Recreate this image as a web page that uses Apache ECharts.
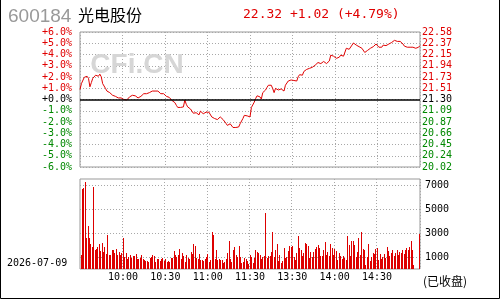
<!DOCTYPE html>
<html><head><meta charset="utf-8">
<script src="https://cdn.jsdelivr.net/npm/echarts@6/dist/echarts.min.js"></script>
<style>html,body{margin:0;padding:0;background:#fff}#c{width:500px;height:300px}</style>
</head><body><div id="c"></div>
<script>
const stockCode = '600184';
const stockName = '光电股份';
const prevClose = 21.30;
const lastPrice = 22.32;
const tradeDate = '2026-07-09';
const statusText = '(已收盘)';
const watermark = 'CFi.CN';
const timeLabels = ['09:30','10:00','10:30','11:00','11:30','13:30','14:00','14:30','15:00'];
const volTicks = [1000, 3000, 5000, 7000];

// price per minute, index 0 = 09:30 ... 120 = 11:30/13:00 ... 240 = 15:00
const prices = [
 21.49,21.60,21.62,21.72,21.73,21.74,21.70,21.54,21.62,21.70,
 21.70,21.76,21.79,21.74,21.78,21.73,21.60,21.57,21.51,21.46,
 21.45,21.43,21.40,21.38,21.36,21.36,21.35,21.33,21.35,21.33,
 21.30,21.30,21.29,21.29,21.32,21.35,21.35,21.38,21.37,21.37,
 21.38,21.33,21.32,21.36,21.39,21.41,21.40,21.41,21.40,21.43,
 21.45,21.46,21.48,21.46,21.49,21.46,21.43,21.41,21.42,21.41,
 21.40,21.36,21.35,21.34,21.32,21.28,21.26,21.24,21.19,21.15,
 21.16,21.15,21.15,21.16,21.29,21.21,21.16,21.15,21.12,21.10,
 21.04,21.06,21.05,21.03,21.01,21.08,21.08,21.03,21.06,21.06,
 21.06,21.06,21.06,20.97,20.97,20.94,20.92,20.92,20.92,20.97,
 20.97,20.92,20.89,20.85,20.81,20.84,20.84,20.81,20.77,20.78,
 20.77,20.77,20.78,20.84,20.87,20.94,21.00,20.99,20.99,20.99,
 20.97,21.15,21.13,21.25,21.32,21.37,21.38,21.35,21.31,21.43,
 21.45,21.48,21.53,21.57,21.59,21.57,21.51,21.43,21.51,21.53,
 21.48,21.51,21.50,21.50,21.46,21.57,21.59,21.65,21.67,21.67,
 21.69,21.66,21.64,21.65,21.73,21.77,21.74,21.76,21.83,21.85,
 21.87,21.89,21.89,21.87,21.91,21.93,21.95,21.93,22.00,22.02,
 21.98,22.00,22.02,22.02,21.98,22.00,22.03,22.14,22.14,22.12,
 22.12,22.08,22.06,22.10,22.14,22.14,22.12,22.14,22.27,22.25,
 22.25,22.24,22.33,22.37,22.35,22.33,22.31,22.30,22.27,22.27,
 22.24,22.19,22.19,22.23,22.24,22.27,22.27,22.30,22.33,22.35,
 22.33,22.29,22.27,22.29,22.33,22.30,22.32,22.33,22.35,22.37,
 22.38,22.40,22.42,22.41,22.40,22.42,22.40,22.38,22.35,22.31,
 22.30,22.29,22.27,22.29,22.30,22.29,22.28,22.27,22.27,22.29,
 22.32
];

// volume per minute (hands)
const volumes = [
 1200,6700,6800,7300,2550,3600,2600,2100,1860,6870,
 1600,1700,1860,2050,1500,2200,1400,1860,1270,2860,
 1200,1150,1600,1550,1300,1700,1200,1400,1200,1300,
 2600,
 1000,1300,800,1000,1200,950,1100,1050,1270,800,
 850,900,1200,800,750,700,650,550,900,1000,
 1200,1100,600,800,850,700,800,950,700,800,
 550,700,550,950,950,1500,1200,1000,1200,1700,
 800,1350,1100,600,1200,900,800,1400,1280,2110,
 1940,940,860,1280,780,780,700,860,1000,
 1280,
 610,780,3110,2860,860,1610,780,860,780,780,
 530,610,860,1360,2360,860,610,1610,1860,1190,
 1030,1940,1030,530,600,940,860,700,440,
 1190,
 1030,530,900,1610,1440,1360,1190,800,1030,1100,
 4700,940,1110,1110,1440,3110,1030,1610,2110,700,
 1190,530,700,1780,940,1030,1530,1940,1860,
 1940,
 1030,780,1360,2780,1780,1610,1110,1360,2190,2110,
 1940,900,1440,1030,1440,1700,1860,2020,1780,1110,
 1110,1610,2280,1190,1440,1110,2110,1780,1190,
 1700,
 1530,780,1360,1110,860,1110,900,780,2780,2020,
 1110,2360,2360,2020,1030,1440,2610,1190,3110,1700,
 1610,300,1030,2110,700,1030,1360,1280,1700,
 1780,
 780,1280,860,1030,1280,940,1860,1530,1110,1360,
 1610,1110,1360,1610,1190,1440,1360,1610,1280,1610,
 1780,1610,1860,2360,1610,360,
 0,0,0,
 2950
];

const chg = lastPrice - prevClose;
const chgPct = chg / prevClose * 100;
const headText = lastPrice.toFixed(2) + ' ' + (chg >= 0 ? '+' : '') + chg.toFixed(2) +
  ' (' + (chgPct >= 0 ? '+' : '') + chgPct.toFixed(2) + '%)';

const mono = 'DejaVu Sans Mono';
const red = '#e00000', green = '#008800';
const colorOf = v => (v > 1e-9 ? red : (v < -1e-9 ? green : '#000'));
const dotted = { color: '#a8a8a8', type: [1, 2], width: 1 };
const isMark = i => i % 30 === 0 && i > 0 && i < 240;

const pctData = prices.map((p, i) => [i, (p / prevClose - 1) * 100]);
const minuteCats = volumes.map((_, i) => i);
const volData = volumes.map((v, i) => [i, v]);

const chart = echarts.init(document.getElementById('c'));
chart.setOption({
  animation: false,
  grid: [
    { left: 80, top: 32, width: 340, height: 135, show: true, borderColor: '#999', borderWidth: 1 },
    { left: 80, top: 179, width: 340, height: 90, show: true, borderColor: '#999', borderWidth: 1 }
  ],
  xAxis: [
    { type: 'value', gridIndex: 0, min: 0, max: 240, interval: 30,
      axisLine: { show: false }, axisTick: { show: false }, axisLabel: { show: false },
      splitLine: { show: true, lineStyle: dotted } },
    { type: 'category', gridIndex: 1, data: minuteCats, boundaryGap: true,
      axisLine: { show: false }, axisTick: { show: false },
      axisLabel: { interval: (i) => isMark(i), formatter: (v, i) => timeLabels[i / 30],
        margin: 3, fontFamily: mono, fontSize: 10, color: '#000' },
      splitLine: { show: true, interval: (i) => isMark(i), lineStyle: dotted } }
  ],
  yAxis: [
    { type: 'value', gridIndex: 0, min: -6, max: 6, interval: 1, position: 'left',
      axisLine: { show: false }, axisTick: { show: false },
      splitLine: { show: true, lineStyle: dotted },
      axisLabel: { margin: 8, fontFamily: mono, fontSize: 10, color: colorOf,
        formatter: v => (v >= 0 ? '+' : '') + v.toFixed(1) + '%' } },
    { type: 'value', gridIndex: 0, min: -6, max: 6, interval: 1, position: 'right',
      axisLine: { show: false }, axisTick: { show: false }, splitLine: { show: false },
      axisLabel: { margin: 2, fontFamily: mono, fontSize: 10, color: colorOf,
        formatter: v => (Math.round(prevClose * (1 + v / 100) * 100 + 1e-6) / 100).toFixed(2) } },
    { type: 'value', gridIndex: 1, min: 0, max: 7520, position: 'right',
      axisLine: { show: false },
      axisTick: { show: false, customValues: volTicks },
      splitLine: { show: true, lineStyle: dotted },
      axisLabel: { customValues: volTicks, margin: 5, fontFamily: mono, fontSize: 10, color: '#000',
        formatter: v => String(v) } }
  ],
  series: [
    { type: 'line', xAxisIndex: 0, yAxisIndex: 0, data: pctData, showSymbol: false,
      lineStyle: { color: red, width: 1 }, z: 3,
      markLine: { silent: true, symbol: 'none', label: { show: false },
        lineStyle: { color: '#000', width: 1.5, type: 'solid' }, data: [{ yAxis: 0 }] } },
    { type: 'custom', xAxisIndex: 1, yAxisIndex: 2, data: volData, z: 3,
      renderItem: (params, api) => {
        const top = api.coord([api.value(0), api.value(1)]);
        const base = api.coord([api.value(0), 0]);
        const x = Math.floor(top[0] + 0.3);
        const y = Math.round(top[1]);
        return { type: 'rect', shape: { x: x, y: y, width: 1, height: Math.round(base[1]) - y },
          style: { fill: '#dd0000' } };
      } }
  ],
  graphic: [
    { type: 'text', x: 8, y: 17, z: 10, style: { text: stockCode, font: '19px "Liberation Sans"', fill: '#999', verticalAlign: 'middle' } },
    { type: 'text', x: 78, y: 15, z: 10, style: { text: stockName, font: '16px "Noto Sans CJK SC"', fill: '#000', verticalAlign: 'middle' } },
    { type: 'text', x: 243, y: 15, z: 10, style: { text: headText, font: '13px "DejaVu Sans Mono"', fill: red, verticalAlign: 'middle' } },
    { type: 'text', x: 137, y: 65, z: 1, style: { text: watermark, font: 'bold 28px "Liberation Sans"', fill: '#d6d6d6', align: 'center', verticalAlign: 'middle' } },
    { type: 'text', x: 7, y: 263, z: 10, style: { text: tradeDate, font: '10px "DejaVu Sans Mono"', fill: '#000', verticalAlign: 'middle' } },
    { type: 'text', x: 423, y: 281, z: 10, style: { text: statusText, font: '12px "Noto Sans CJK SC"', fill: '#000', verticalAlign: 'middle' } },
    { type: 'polyline', z: 10, shape: { points: [[0.5, 0], [0.5, 298.5], [499.5, 298.5], [499.5, 0]] }, style: { stroke: '#000', lineWidth: 1, fill: null } }
  ]
});
</script></body></html>
